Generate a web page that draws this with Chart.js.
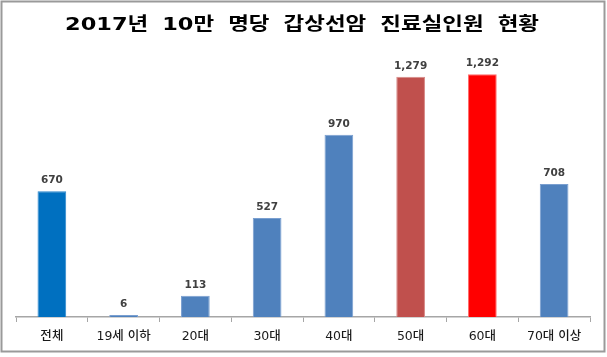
<!DOCTYPE html>
<html><head><meta charset="utf-8">
<script src="https://cdn.jsdelivr.net/npm/chart.js@4.4.1/dist/chart.umd.min.js"></script>
<style>
html,body{margin:0;padding:0;background:#fff;}
#wrap{position:relative;width:607px;height:357px;}
canvas{display:block;}
</style></head>
<body><div id="wrap"><canvas id="c" width="607" height="357"></canvas></div>
<script>
const chartTitle = '2017년 10만 명당 갑상선암 진료실인원 현황';
const categories = ['전체', '19세 이하', '20대', '30대', '40대', '50대', '60대', '70대 이상'];
const values = [670, 6, 113, 527, 970, 1279, 1292, 708];
const barColors = ['#0070C0', '#4F81BD', '#4F81BD', '#4F81BD', '#4F81BD', '#C0504D', '#FF0000', '#4F81BD'];
const barBorders = ['#2a86cc', '#7a9fd0', '#7a9fd0', '#7a9fd0', '#7a9fd0', '#d88a88', '#ff6a6a', '#7a9fd0'];
const yMax = 1400;

const FONT = '"DejaVu Sans", "Noto Sans CJK KR", sans-serif';

const decor = {
  id: 'decor',
  afterDraw(chart) {
    const ctx = chart.ctx;
    ctx.save();
    // outer border
    ctx.strokeStyle = '#9a9a9a';
    ctx.lineWidth = 2;
    ctx.strokeRect(1.5, 1.5, 603, 350);
    // title, fitted to the reference width
    ctx.fillStyle = '#000';
    ctx.font = 'bold 18px "DejaVu Sans", "Noto Sans CJK KR", sans-serif';
    ctx.textAlign = 'center';
    ctx.textBaseline = 'middle';
    try { ctx.wordSpacing = '5px'; } catch (e) {}
    const w = ctx.measureText(chartTitle).width;
    const target = 474;
    ctx.save();
    ctx.translate(302, 25);
    ctx.scale(Math.min(1.3, target / w), 1);
    ctx.fillText(chartTitle, 0, 0);
    ctx.restore();
    try { ctx.wordSpacing = '0px'; } catch (e) {}
    // value labels
    const meta = chart.getDatasetMeta(0);
    ctx.font = 'bold 10.5px ' + FONT;
    ctx.fillStyle = '#404040';
    ctx.textAlign = 'center';
    ctx.textBaseline = 'alphabetic';
    meta.data.forEach((bar, i) => {
      const v = chart.data.datasets[0].data[i];
      ctx.fillText(v.toLocaleString('en-US'), bar.x, bar.y - 8);
    });
    ctx.restore();
  }
};

new Chart(document.getElementById('c'), {
  type: 'bar',
  data: {
    labels: categories,
    datasets: [{
      data: values,
      backgroundColor: barColors,
      borderColor: barBorders,
      borderWidth: 1,
      minBarLength: 2,
      categoryPercentage: 1.0,
      barPercentage: 0.4
    }]
  },
  options: {
    responsive: false,
    animation: false,
    devicePixelRatio: 1,
    layout: { padding: { left: 16, right: 17, top: 54, bottom: 6 } },
    plugins: { legend: { display: false }, tooltip: { enabled: false }, title: { display: false } },
    scales: {
      y: { display: false, min: 0, max: yMax },
      x: {
        grid: { display: true, drawOnChartArea: false, drawTicks: true, tickLength: 5, color: '#a6a6a6', offset: true },
        border: { display: true, color: '#a6a6a6', width: 1.5 },
        ticks: { color: '#1a1a1a', font: { family: FONT, size: 12.5, weight: '500' }, padding: 7, maxRotation: 0, autoSkip: false }
      }
    }
  },
  plugins: [decor]
});
</script></body></html>
